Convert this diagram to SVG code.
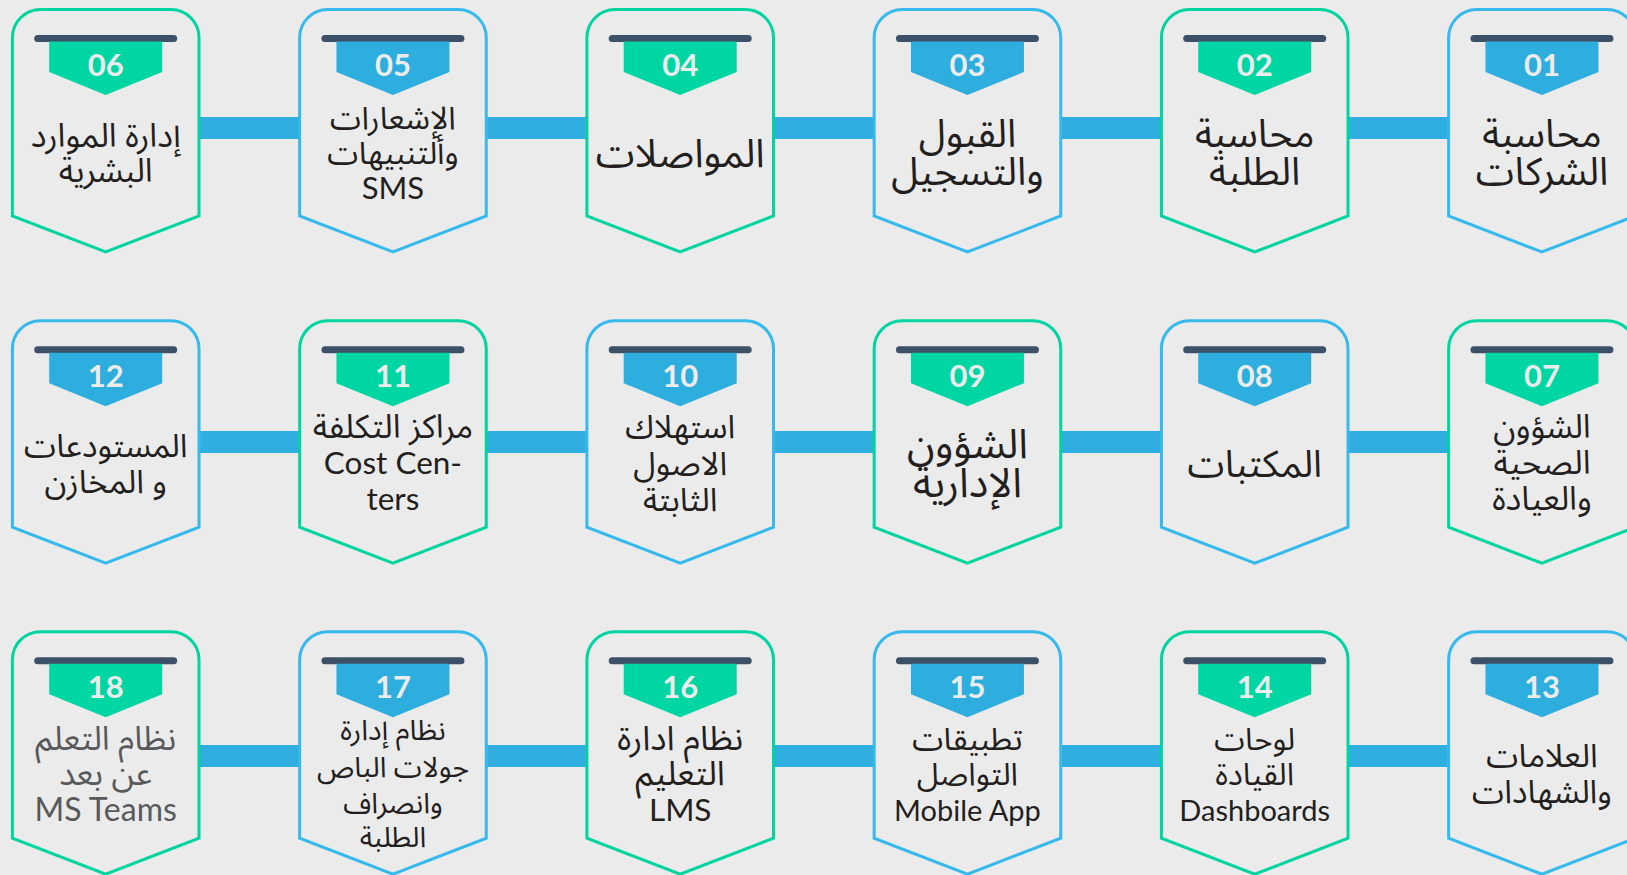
<svg xmlns="http://www.w3.org/2000/svg" width="1627" height="875" viewBox="0 0 1627 875">
<style>
.bg{fill:#ebebeb}
.shell{fill:#ebebeb;stroke-width:3;stroke-linejoin:miter}
.sg{stroke:#00d5a0}
.sb{stroke:#36b9ec}
.bar{fill:#3c5068}
.bdg{fill:#00d6a3}
.bdb{fill:#2eaddf}
.num{font-family:Lato,"Open Sans",sans-serif;font-weight:700;font-size:31px;fill:#ececec;text-anchor:middle}
.ar{font-family:"Noto Sans Arabic","DejaVu Sans",sans-serif;fill:#231f20;text-anchor:middle}
.la{font-family:Lato,"Noto Sans",sans-serif;fill:#231f20;text-anchor:middle}
.gray{fill:#58595b}
.conn{fill:#2faedf}
</style>
<defs>
<path id="shell" d="M-93.3,206.5 V28 A28,28 0 0 1 -65.3,0 H65.3 A28,28 0 0 1 93.3,28 V206.5 L0,242.5 Z"/>
</defs>
<rect class="bg" x="0" y="0" width="1627" height="875"/>
<g id="connectors" class="conn">
<rect x="199" y="117" width="100.7" height="22"/>
<rect x="486.3" y="117" width="100.7" height="22"/>
<rect x="773.5" y="117" width="100.7" height="22"/>
<rect x="1060.8" y="117" width="100.7" height="22"/>
<rect x="1348" y="117" width="100.7" height="22"/>
<rect x="199" y="431" width="100.7" height="22"/>
<rect x="486.3" y="431" width="100.7" height="22"/>
<rect x="773.5" y="431" width="100.7" height="22"/>
<rect x="1060.8" y="431" width="100.7" height="22"/>
<rect x="1348" y="431" width="100.7" height="22"/>
<rect x="199" y="745" width="100.7" height="22"/>
<rect x="486.3" y="745" width="100.7" height="22"/>
<rect x="773.5" y="745" width="100.7" height="22"/>
<rect x="1060.8" y="745" width="100.7" height="22"/>
<rect x="1348" y="745" width="100.7" height="22"/>
</g>

<!-- Row 1 -->
<g id="node-06" transform="translate(105.7,9.5)">
<use href="#shell" class="shell sg"/>
<rect class="bar" x="-71.5" y="25.5" width="143" height="7" rx="3.5"/>
<polygon class="bdg" points="-56.5,32 56.5,32 56.5,62.5 0,85.5 -56.5,62.5"/>
<text class="num" x="0" y="66.5">06</text>
<text class="ar" font-size="33" x="0" y="137" direction="rtl">إدارة الموارد</text>
<text class="ar" font-size="33" x="0" y="172" direction="rtl">البشرية</text>
</g>
<g id="node-05" transform="translate(392.95,9.5)">
<use href="#shell" class="shell sb"/>
<rect class="bar" x="-71.5" y="25.5" width="143" height="7" rx="3.5"/>
<polygon class="bdb" points="-56.5,32 56.5,32 56.5,62.5 0,85.5 -56.5,62.5"/>
<text class="num" x="0" y="66.5">05</text>
<text class="ar" font-size="31.5" x="0" y="119" direction="rtl">الإشعارات</text>
<text class="ar" font-size="31.5" x="0" y="154" direction="rtl">وألتنبيهات</text>
<text class="la" font-size="31" x="0" y="189.5">SMS</text>
</g>
<g id="node-04" transform="translate(680.2,9.5)">
<use href="#shell" class="shell sg"/>
<rect class="bar" x="-71.5" y="25.5" width="143" height="7" rx="3.5"/>
<polygon class="bdg" points="-56.5,32 56.5,32 56.5,62.5 0,85.5 -56.5,62.5"/>
<text class="num" x="0" y="66.5">04</text>
<text class="ar" font-size="39.5" x="0" y="157" direction="rtl">المواصلات</text>
</g>
<g id="node-03" transform="translate(967.45,9.5)">
<use href="#shell" class="shell sb"/>
<rect class="bar" x="-71.5" y="25.5" width="143" height="7" rx="3.5"/>
<polygon class="bdb" points="-56.5,32 56.5,32 56.5,62.5 0,85.5 -56.5,62.5"/>
<text class="num" x="0" y="66.5">03</text>
<text class="ar" font-size="39" x="0" y="137" direction="rtl">القبول</text>
<text class="ar" font-size="39" x="0" y="175.5" direction="rtl">والتسجيل</text>
</g>
<g id="node-02" transform="translate(1254.7,9.5)">
<use href="#shell" class="shell sg"/>
<rect class="bar" x="-71.5" y="25.5" width="143" height="7" rx="3.5"/>
<polygon class="bdg" points="-56.5,32 56.5,32 56.5,62.5 0,85.5 -56.5,62.5"/>
<text class="num" x="0" y="66.5">02</text>
<text class="ar" font-size="39" x="0" y="137" direction="rtl">محاسبة</text>
<text class="ar" font-size="39" x="0" y="175.5" direction="rtl">الطلبة</text>
</g>
<g id="node-01" transform="translate(1541.95,9.5)">
<use href="#shell" class="shell sb"/>
<rect class="bar" x="-71.5" y="25.5" width="143" height="7" rx="3.5"/>
<polygon class="bdb" points="-56.5,32 56.5,32 56.5,62.5 0,85.5 -56.5,62.5"/>
<text class="num" x="0" y="66.5">01</text>
<text class="ar" font-size="39" x="0" y="137" direction="rtl">محاسبة</text>
<text class="ar" font-size="39" x="0" y="175.5" direction="rtl">الشركات</text>
</g>

<!-- Row 2 -->
<g id="node-12" transform="translate(105.7,320.7)">
<use href="#shell" class="shell sb"/>
<rect class="bar" x="-71.5" y="25.5" width="143" height="7" rx="3.5"/>
<polygon class="bdb" points="-56.5,32 56.5,32 56.5,62.5 0,85.5 -56.5,62.5"/>
<text class="num" x="0" y="66.5">12</text>
<text class="ar" font-size="32.5" x="0" y="136" direction="rtl">المستودعات</text>
<text class="ar" font-size="32.5" x="0" y="172.6" direction="rtl">و المخازن</text>
</g>
<g id="node-11" transform="translate(392.95,320.7)">
<use href="#shell" class="shell sg"/>
<rect class="bar" x="-71.5" y="25.5" width="143" height="7" rx="3.5"/>
<polygon class="bdg" points="-56.5,32 56.5,32 56.5,62.5 0,85.5 -56.5,62.5"/>
<text class="num" x="0" y="66.5">11</text>
<text class="ar" font-size="33" x="0" y="117.6" direction="rtl">مراكز التكلفة</text>
<text class="la" font-size="31.5" x="0" y="153.3">Cost Cen-</text>
<text class="la" font-size="31.5" x="0" y="189.3">ters</text>
</g>
<g id="node-10" transform="translate(680.2,320.7)">
<use href="#shell" class="shell sb"/>
<rect class="bar" x="-71.5" y="25.5" width="143" height="7" rx="3.5"/>
<polygon class="bdb" points="-56.5,32 56.5,32 56.5,62.5 0,85.5 -56.5,62.5"/>
<text class="num" x="0" y="66.5">10</text>
<text class="ar" font-size="32.5" x="0" y="117.6" direction="rtl">استهلاك</text>
<text class="ar" font-size="32.5" x="0" y="154.3" direction="rtl">الاصول</text>
<text class="ar" font-size="32.5" x="0" y="190" direction="rtl">الثابتة</text>
</g>
<g id="node-09" transform="translate(967.45,320.7)">
<use href="#shell" class="shell sg"/>
<rect class="bar" x="-71.5" y="25.5" width="143" height="7" rx="3.5"/>
<polygon class="bdg" points="-56.5,32 56.5,32 56.5,62.5 0,85.5 -56.5,62.5"/>
<text class="num" x="0" y="66.5">09</text>
<text class="ar" font-size="41" x="0" y="137.6" direction="rtl">الشؤون</text>
<text class="ar" font-size="41" x="0" y="176" direction="rtl">الإدارية</text>
</g>
<g id="node-08" transform="translate(1254.7,320.7)">
<use href="#shell" class="shell sb"/>
<rect class="bar" x="-71.5" y="25.5" width="143" height="7" rx="3.5"/>
<polygon class="bdb" points="-56.5,32 56.5,32 56.5,62.5 0,85.5 -56.5,62.5"/>
<text class="num" x="0" y="66.5">08</text>
<text class="ar" font-size="37.5" x="0" y="156" direction="rtl">المكتبات</text>
</g>
<g id="node-07" transform="translate(1541.95,320.7)">
<use href="#shell" class="shell sg"/>
<rect class="bar" x="-71.5" y="25.5" width="143" height="7" rx="3.5"/>
<polygon class="bdg" points="-56.5,32 56.5,32 56.5,62.5 0,85.5 -56.5,62.5"/>
<text class="num" x="0" y="66.5">07</text>
<text class="ar" font-size="33" x="0" y="117.6" direction="rtl">الشؤون</text>
<text class="ar" font-size="33" x="0" y="153.6" direction="rtl">الصحية</text>
<text class="ar" font-size="33" x="0" y="189.3" direction="rtl">والعيادة</text>
</g>

<!-- Row 3 -->
<g id="node-18" transform="translate(105.7,631.7)">
<use href="#shell" class="shell sg"/>
<rect class="bar" x="-71.5" y="25.5" width="143" height="7" rx="3.5"/>
<polygon class="bdg" points="-56.5,32 56.5,32 56.5,62.5 0,85.5 -56.5,62.5"/>
<text class="num" x="0" y="66.5">18</text>
<text class="ar gray" font-size="33" x="0" y="118.3" direction="rtl">نظام التعلم</text>
<text class="ar gray" font-size="33" x="0" y="153.3" direction="rtl">عن بعد</text>
<text class="la gray" font-size="32" x="0" y="189">MS Teams</text>
</g>
<g id="node-17" transform="translate(392.95,631.7)">
<use href="#shell" class="shell sb"/>
<rect class="bar" x="-71.5" y="25.5" width="143" height="7" rx="3.5"/>
<polygon class="bdb" points="-56.5,32 56.5,32 56.5,62.5 0,85.5 -56.5,62.5"/>
<text class="num" x="0" y="66.5">17</text>
<text class="ar" font-size="28.5" x="0" y="108.3" direction="rtl">نظام إدارة</text>
<text class="ar" font-size="28.5" x="0" y="145" direction="rtl">جولات الباص</text>
<text class="ar" font-size="28.5" x="0" y="181.6" direction="rtl">وانصراف</text>
<text class="ar" font-size="28.5" x="0" y="215" direction="rtl">الطلبة</text>
</g>
<g id="node-16" transform="translate(680.2,631.7)">
<use href="#shell" class="shell sg"/>
<rect class="bar" x="-71.5" y="25.5" width="143" height="7" rx="3.5"/>
<polygon class="bdg" points="-56.5,32 56.5,32 56.5,62.5 0,85.5 -56.5,62.5"/>
<text class="num" x="0" y="66.5">16</text>
<text class="ar" font-size="34" x="0" y="118.3" direction="rtl">نظام ادارة</text>
<text class="ar" font-size="34" x="0" y="153.3" direction="rtl">التعليم</text>
<text class="la" font-size="31.5" x="0" y="189">LMS</text>
</g>
<g id="node-15" transform="translate(967.45,631.7)">
<use href="#shell" class="shell sb"/>
<rect class="bar" x="-71.5" y="25.5" width="143" height="7" rx="3.5"/>
<polygon class="bdb" points="-56.5,32 56.5,32 56.5,62.5 0,85.5 -56.5,62.5"/>
<text class="num" x="0" y="66.5">15</text>
<text class="ar" font-size="31.5" x="0" y="118.3" direction="rtl">تطبيقات</text>
<text class="ar" font-size="31.5" x="0" y="153.3" direction="rtl">التواصل</text>
<text class="la" font-size="29" x="0" y="189">Mobile App</text>
</g>
<g id="node-14" transform="translate(1254.7,631.7)">
<use href="#shell" class="shell sg"/>
<rect class="bar" x="-71.5" y="25.5" width="143" height="7" rx="3.5"/>
<polygon class="bdg" points="-56.5,32 56.5,32 56.5,62.5 0,85.5 -56.5,62.5"/>
<text class="num" x="0" y="66.5">14</text>
<text class="ar" font-size="31" x="0" y="118.3" direction="rtl">لوحات</text>
<text class="ar" font-size="31" x="0" y="153.3" direction="rtl">القيادة</text>
<text class="la" font-size="29" x="0" y="189">Dashboards</text>
</g>
<g id="node-13" transform="translate(1541.95,631.7)">
<use href="#shell" class="shell sb"/>
<rect class="bar" x="-71.5" y="25.5" width="143" height="7" rx="3.5"/>
<polygon class="bdb" points="-56.5,32 56.5,32 56.5,62.5 0,85.5 -56.5,62.5"/>
<text class="num" x="0" y="66.5">13</text>
<text class="ar" font-size="32.5" x="0" y="135" direction="rtl">العلامات</text>
<text class="ar" font-size="32.5" x="0" y="171.6" direction="rtl">والشهادات</text>
</g>
</svg>
